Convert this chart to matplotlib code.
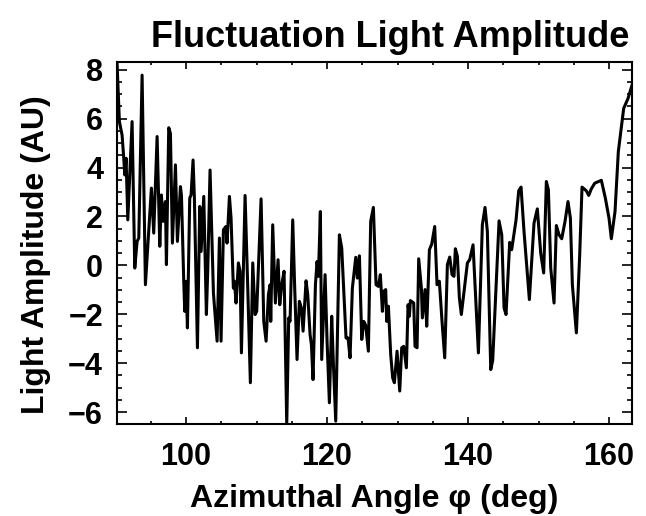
import matplotlib
matplotlib.use('Agg')
import matplotlib.pyplot as plt
from matplotlib.ticker import MultipleLocator

plt.rcParams['font.family'] = ['Liberation Sans', 'DejaVu Sans']
plt.rcParams['font.weight'] = 'bold'

# azimuthal angle (deg) and fluctuation light amplitude (AU)
angle = [
    90.20, 90.54, 90.92, 91.16, 91.30, 91.49, 91.73, 92.34, 92.72, 93.05,
    93.29, 93.76, 94.23, 95.08, 95.41, 95.89, 96.27, 96.50, 96.74, 96.93,
    97.07, 97.21, 97.54, 97.78, 98.06, 98.49, 98.77, 99.20, 99.34, 99.67,
    99.81, 100.00, 100.19, 100.52, 100.71, 100.99, 101.18, 101.61, 101.94, 102.13,
    102.51, 102.88, 103.07, 103.40, 103.88, 104.40, 104.73, 104.96, 105.30, 105.67,
    105.81, 106.15, 106.38, 106.71, 106.86, 107.09, 107.42, 107.66, 107.85, 108.37,
    108.75, 109.12, 109.46, 109.79, 110.02, 110.64, 111.02, 111.35, 111.68, 111.92,
    112.01, 112.29, 112.67, 113.05, 113.29, 113.57, 113.90, 114.28, 114.56, 114.75,
    115.13, 115.41, 115.74, 116.07, 116.36, 116.60, 117.02, 117.26, 117.59, 117.78,
    118.01, 118.35, 118.58, 118.77, 119.05, 119.24, 119.72, 120.00, 120.33, 120.66,
    120.90, 121.23, 121.75, 122.08, 122.69, 122.98, 123.26, 123.59, 124.07, 124.30,
    124.59, 124.92, 125.20, 125.48, 125.86, 126.19, 126.57, 126.95, 127.28, 127.56,
    127.85, 128.04, 128.32, 128.46, 128.70, 129.03, 129.31, 129.55, 129.93, 130.31,
    130.59, 130.87, 131.25, 131.49, 131.68, 131.82, 132.29, 132.48, 132.77, 133.00,
    133.38, 133.52, 133.90, 134.14, 134.52, 134.85, 135.27, 135.60, 135.93, 136.31,
    136.69, 137.07, 137.40, 137.73, 138.01, 138.20, 138.49, 138.77, 139.05, 139.91,
    140.24, 140.71, 141.47, 142.03, 142.41, 142.74, 143.22, 143.50, 144.40, 144.78,
    145.11, 145.39, 145.91, 146.19, 146.81, 147.19, 147.52, 147.94, 148.70, 149.36,
    149.83, 150.31, 150.73, 151.11, 151.40, 151.73, 152.20, 152.53, 152.91, 153.29,
    153.76, 154.18, 154.52, 154.80, 155.37, 155.84, 156.17, 156.78, 157.12, 157.49,
    157.97, 158.91, 159.48, 160.00, 160.33, 160.85, 161.32, 162.08, 162.70, 163.26,
]
amplitude = [
    8.33, 5.88, 5.33, 4.38, 3.70, 4.38, 1.86, 5.88, -0.11, 0.98,
    1.12, 7.78, -0.79, 3.16, 1.32, 5.27, 0.78, 2.88, 1.80, 2.27,
    2.61, 0.03, 5.63, 5.40, 0.91, 4.11, 0.98, 3.22, 2.88, -0.65,
    -1.88, -0.65, -2.56, 2.75, 2.88, 4.31, 2.75, -3.37, 2.41, 0.57,
    2.82, -2.01, -0.24, 3.90, -1.13, -3.10, 1.12, -3.10, 1.46, 1.59,
    0.91, 2.82, 1.93, -0.93, -0.65, -1.54, 0.10, -0.24, -3.58, 2.86,
    -0.93, -4.80, 0.10, -2.01, -1.88, 2.72, -2.29, -3.10, -1.20, -0.79,
    -2.29, 1.66, -1.54, 0.23, -1.61, -0.79, -0.24, -6.50, -2.15, -2.29,
    1.86, -0.93, -3.85, -1.47, -1.74, -2.69, -0.63, -1.20, -2.83, -3.24,
    -4.67, -0.79, 0.16, -0.45, 2.20, -3.85, -0.38, -3.10, -5.62, -2.08,
    -4.05, -6.37, 1.25, 0.71, -2.97, -2.97, -3.78, -0.93, 0.33, -0.52,
    0.39, -3.03, -2.29, -2.45, -3.51, 1.80, 2.37, -0.79, -0.86, -0.38,
    -1.88, -1.06, -0.99, -2.29, -1.67, -3.65, -4.60, -4.80, -3.51, -5.14,
    -3.37, -3.31, -4.19, -1.61, -2.08, -1.44, -1.54, -3.31, -3.37, 0.27,
    -0.93, -2.15, -0.99, -2.49, 0.64, 0.87, 1.59, -0.79, -0.65, -2.29,
    -3.78, 0.03, 0.34, -0.38, -0.45, 0.68, 0.37, -1.33, -2.01, 0.10,
    0.24, 0.84, -3.58, 1.66, 2.37, 1.39, -4.26, -3.89, 1.82, 1.25,
    -1.74, -2.01, 0.94, 0.64, 1.86, 3.05, 3.20, 1.39, -1.40, 1.73,
    2.31, 0.50, -0.31, 3.43, 3.09, -0.11, -1.54, 1.63, 1.25, 1.09,
    1.80, 2.61, 1.93, -0.79, -2.76, 0.44, 3.20, 3.05, 2.86, 3.13,
    3.36, 3.48, 2.75, 1.93, 1.09, 2.20, 4.65, 6.42, 6.83, 7.37,
]

fig = plt.figure(figsize=(6.46, 5.16), dpi=100)
ax = fig.add_axes([117 / 646, 1 - 424.3 / 516, 515 / 646, 362.6 / 516])

ax.plot(angle, amplitude, color='black', lw=2.2)

# exact data range on both axes, ticks on all four sides pointing inwards
ax.set_xlim(min(angle), max(angle))
ax.set_ylim(min(amplitude), max(amplitude))
ax.xaxis.set_major_locator(MultipleLocator(20))
ax.xaxis.set_minor_locator(MultipleLocator(5))
ax.yaxis.set_major_locator(MultipleLocator(2))
ax.yaxis.set_minor_locator(MultipleLocator(0.5))

for s in ax.spines.values():
    s.set_linewidth(1.5)
ax.tick_params(axis='both', which='both', direction='in', top=True, right=True,
               width=1.2, labelsize=22)
ax.tick_params(axis='x', which='major', length=5, pad=13)
ax.tick_params(axis='x', which='minor', length=2.5)
ax.tick_params(axis='y', which='major', length=7.2, pad=10)
ax.tick_params(axis='y', which='minor', length=3.6)
for lab in ax.get_xticklabels() + ax.get_yticklabels():
    lab.set_fontweight('bold')

fig.text(374.5 / 646, 1 - 506.7 / 516, 'Azimuthal Angle φ (deg)', ha='center',
         va='baseline', fontsize=23, fontweight='bold')
fig.text(36 / 646, 1 - 255 / 516, 'Light Amplitude (AU)', rotation=90,
         ha='center', va='center', fontsize=23, fontweight='bold')
fig.text(390.5 / 646, 1 - 47 / 516, 'Fluctuation Light Amplitude', ha='center',
         va='baseline', fontsize=26, fontweight='bold')

fig.savefig('out.png', dpi=100)
